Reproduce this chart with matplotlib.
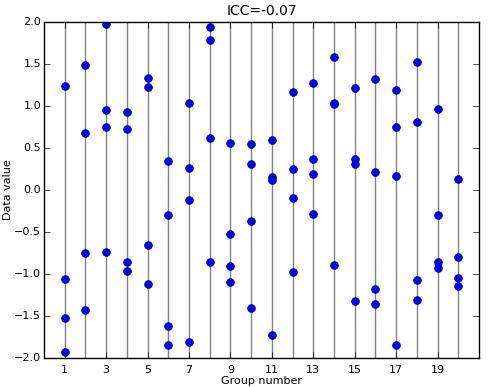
import numpy as np
import matplotlib
matplotlib.use('Agg')
from matplotlib import pyplot as plt

plt.style.use('classic')

# values per group
groups = np.arange(1, 21)
values = [
    [1.24, -1.06, -1.52, -1.93],
    [1.49, 0.68, -0.75, -1.43],
    [1.98, 0.95, 0.75, -0.74],
    [0.93, 0.73, -0.86, -0.96],
    [1.33, 1.23, -0.65, -1.12],
    [0.35, -0.30, -1.62, -1.84],
    [1.04, 0.26, -0.12, -1.81],
    [1.94, 1.79, 0.62, -0.86],
    [0.56, -0.52, -0.91, -1.09],
    [0.55, 0.31, -0.37, -1.40],
    [0.60, 0.15, 0.12, -1.73],
    [1.17, 0.25, -0.10, -0.98],
    [1.28, 0.37, 0.19, -0.28],
    [1.58, 1.04, 1.03, -0.89],
    [1.21, 0.37, 0.31, -1.32],
    [1.32, 0.21, -1.18, -1.36],
    [1.19, 0.75, 0.17, -1.85],
    [1.52, 0.81, -1.07, -1.31],
    [0.97, -0.30, -0.86, -0.93],
    [0.13, -0.80, -1.05, -1.14],
]
icc = -0.07
xticks = [1, 3, 5, 7, 9, 11, 13, 15, 17, 19]

fig = plt.figure(figsize=(5, 3.87), dpi=100, facecolor='white')
ax = fig.add_axes([0.088, 0.075, 0.87, 0.868])

for g in groups:
    ax.axvline(g, color='grey', lw=1)

for g, v in zip(groups, values):
    ax.plot([g] * len(v), v, 'o', color='b', mec='#000080', ms=5.5, mew=0.6)

ax.set_xlim(0, 21)
ax.set_ylim(-2, 2)
ax.set_xticks(xticks)
yt = np.arange(-2, 2.01, 0.5)
ax.set_yticks(yt)
ax.set_yticklabels([('%.1f' % t).replace('-', '\u2212') for t in yt])
ax.tick_params(labelsize=8)
ax.tick_params(axis='x', pad=5)
ax.tick_params(axis='y', pad=2)
ax.set_xlabel('Group number', fontsize=8, labelpad=1)
ax.set_ylabel('Data value', fontsize=8, labelpad=1)
ax.set_title('ICC=%.2f' % icc, fontsize=10)

fig.savefig('out.png', dpi=100, facecolor='white')
